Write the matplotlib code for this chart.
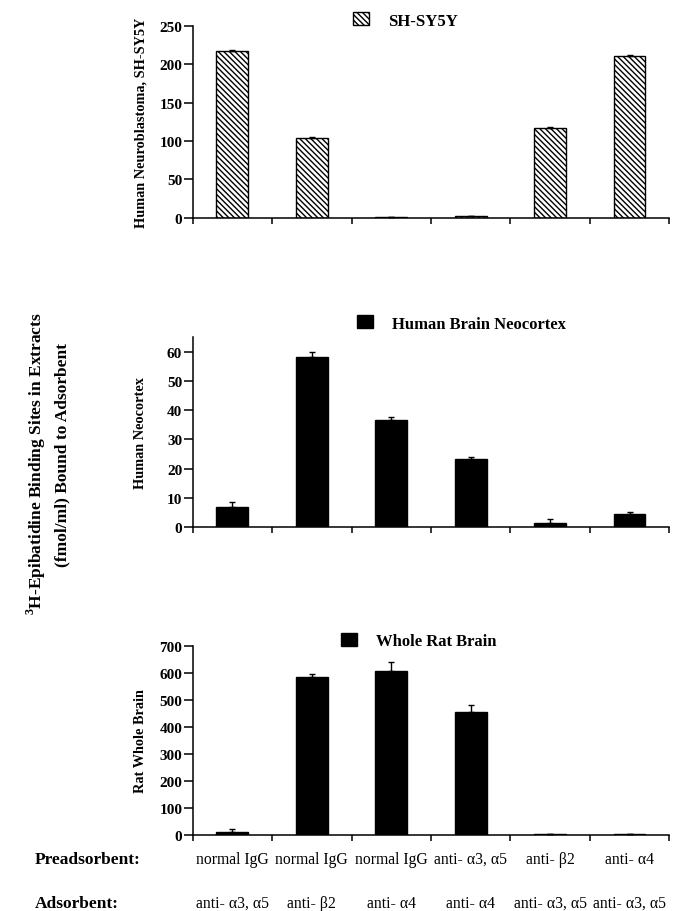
import matplotlib
matplotlib.use("Agg")
import matplotlib.pyplot as plt
from matplotlib.patches import Patch
import numpy as np

# Valeurs (fmol/ml)
preadsorbent = ['normal IgG', 'normal IgG', 'normal IgG', 'anti- α3, α5', 'anti- β2', 'anti- α4']
adsorbent = ['anti- α3, α5', 'anti- β2', 'anti- α4', 'anti- α4', 'anti- α3, α5', 'anti- α3, α5']

shsy5y = [218, 104, 1, 1.5, 117, 211]
shsy5y_err = [1, 1, 0.3, 0.5, 1, 1]

neocortex = [6.8, 58.1, 36.8, 23.2, 1.5, 4.5]
neocortex_err = [2.0, 1.9, 0.8, 0.7, 1.5, 0.8]

rat_brain = [12, 586, 607, 454, 3, 3]
rat_brain_err = [10, 8, 32, 25, 1, 1]

plt.rcParams['font.family'] = ['Liberation Serif', 'DejaVu Serif']
plt.rcParams['font.weight'] = 'bold'
plt.rcParams['mathtext.fontset'] = 'custom'
plt.rcParams['mathtext.rm'] = 'Liberation Serif:bold'
plt.rcParams['mathtext.bf'] = 'Liberation Serif:bold'
plt.rcParams['hatch.linewidth'] = 1.0
plt.rcParams['axes.linewidth'] = 1.1

fig = plt.figure(figsize=(6.76, 9.12), dpi=100)

left, width = 0.285, 0.705
panels = [
    # bottom, height, values, errors, ylim, yticks, ylabel, legend, legend pos, hatched
    (0.7604, 0.210, shsy5y, shsy5y_err, 250, np.arange(0, 251, 50),
     'Human Neuroblastoma, SH-SY5Y', 'SH-SY5Y', (0.336, 1.029), True),
    (0.4207, 0.2087, neocortex, neocortex_err, 65, np.arange(0, 61, 10),
     'Human Neocortex', 'Human Brain Neocortex', (0.345, 1.071), False),
    (0.0833, 0.2076, rat_brain, rat_brain_err, 700, np.arange(0, 701, 100),
     'Rat Whole Brain', 'Whole Rat Brain', (0.311, 1.025), False),
]

x = np.arange(len(preadsorbent)) + 0.5
axes = []
for bottom, height, vals, errs, ymax, yticks, ylab, leg, legpos, hatched in panels:
    ax = fig.add_axes([left, bottom, width, height])
    if hatched:
        style = dict(facecolor='white', edgecolor='black', hatch='\\\\\\\\\\\\', linewidth=1.0)
    else:
        style = dict(facecolor='black', edgecolor='black', linewidth=1.0)
    ax.bar(x, vals, width=0.4, zorder=2, **style)
    ax.errorbar(x, vals, yerr=[np.zeros(len(errs)), errs], fmt='none',
                ecolor='black', elinewidth=1.0, capsize=2.5, capthick=1.0, zorder=3)

    ax.set_xlim(0, len(x))
    ax.set_ylim(0, ymax)
    ax.set_yticks(yticks)
    ax.set_xticks(np.arange(len(x) + 1))
    ax.set_xticklabels([])
    ax.spines['top'].set_visible(False)
    ax.spines['right'].set_visible(False)
    ax.tick_params(axis='y', length=6.5, width=1.1, pad=1, labelsize=11)
    ax.tick_params(axis='x', length=4, width=1.1)
    for lab in ax.get_yticklabels():
        lab.set_fontweight('bold')

    ax.set_ylabel(ylab, fontsize=10.3, fontweight='bold')
    ax.yaxis.set_label_coords(-0.095, 0.5)

    handle = Patch(**style)
    ax.legend([handle], [leg], loc='center left', bbox_to_anchor=legpos,
              frameon=False, borderpad=0, borderaxespad=0,
              handlelength=0.95, handleheight=0.8, handletextpad=1.15,
              prop={'weight': 'bold', 'size': 12})
    axes.append(ax)

ax3 = axes[-1]
trans = ax3.get_xaxis_transform()
for xi, pre, ads in zip(x, preadsorbent, adsorbent):
    ax3.text(xi, -0.127, pre, transform=trans, ha='center', va='center',
             fontsize=11.3, fontweight='normal')
    ax3.text(xi, -0.359, ads, transform=trans, ha='center', va='center',
             fontsize=11.3, fontweight='normal')

fig.text(0.052, 1 - 860 / 912, 'Preadsorbent:', ha='left', va='center', fontsize=12.5, fontweight='bold')
fig.text(0.052, 1 - 904 / 912, 'Adsorbent:', ha='left', va='center', fontsize=12.5, fontweight='bold')

# titre commun de l'axe y
fig.text(36 / 676, 1 - 464 / 912, r'$^{3}$H-Epibatidine Binding Sites in Extracts',
         rotation=90, ha='center', va='center', fontsize=12.5, fontweight='bold')
fig.text(62 / 676, 1 - 455 / 912, '(fmol/ml) Bound to Adsorbent',
         rotation=90, ha='center', va='center', fontsize=12.5, fontweight='bold')

fig.savefig('out.png', dpi=100)
